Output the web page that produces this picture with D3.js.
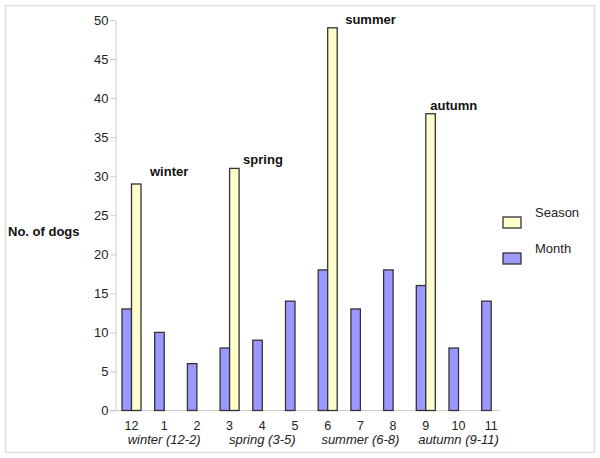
<!DOCTYPE html>
<html><head><meta charset="utf-8">
<script src="https://cdn.jsdelivr.net/npm/d3@7"></script>
<style>body{margin:0;background:#fff;} text{font-family:"Liberation Sans",Arial,sans-serif;}</style>
</head><body>
<svg id="chart" width="600" height="458"></svg>
<script>
const months = ["12","1","2","3","4","5","6","7","8","9","10","11"];
const monthValues = [13,10,6,8,9,14,18,13,18,16,8,14];
const seasons = ["winter","spring","summer","autumn"];
const seasonValues = [29,31,49,38];
const seasonRanges = ["winter (12-2)","spring (3-5)","summer (6-8)","autumn (9-11)"];
const yTicks = [0,5,10,15,20,25,30,35,40,45,50];

const svg = d3.select("#chart");
const W = 600, H = 458;
const barW = 9.5;
const labelOffsets = [[9,-8],[4,-4],[8,-4],[-5,-4]];

svg.append("rect").attr("x",5.5).attr("y",5.5).attr("width",589).attr("height",447)
  .attr("fill","#fff").attr("stroke","#ddd").attr("stroke-width",1.5);

const y = d3.scaleLinear().domain([0,50]).range([410.5,20]);
const x = d3.scaleBand().domain(months).range([122,122+12*32.7]).paddingInner(0).paddingOuter(0);

// y axis
const yAxis = svg.append("g").attr("transform","translate(115.5,0)")
  .call(d3.axisLeft(y).tickValues(yTicks).tickSize(5).tickPadding(2).tickSizeOuter(0));
yAxis.select(".domain").attr("stroke","#ccc");
yAxis.selectAll(".tick line").attr("stroke","#ccc");
yAxis.selectAll(".tick text").attr("font-size",13).attr("fill","#222")
  .style("font-family","'Liberation Sans',Arial,sans-serif");

// x axis baseline
svg.append("line").attr("x1",110).attr("x2",500).attr("y1",y(0)).attr("y2",y(0))
  .attr("stroke","#ccc").attr("stroke-width",1);

// month bars
svg.append("g").selectAll("rect").data(months).join("rect")
  .attr("x",(m)=>x(m)).attr("width",barW)
  .attr("y",(m,i)=>y(monthValues[i])).attr("height",(m,i)=>y(0)-y(monthValues[i]))
  .attr("fill","#9999ff").attr("stroke","#333").attr("stroke-width",1.3);

// season bars (next to first month of each season)
svg.append("g").selectAll("rect").data(seasons).join("rect")
  .attr("x",(s,i)=>x(months[i*3])+barW).attr("width",barW)
  .attr("y",(s,i)=>y(seasonValues[i])).attr("height",(s,i)=>y(0)-y(seasonValues[i]))
  .attr("fill","#ffffcc").attr("stroke","#333").attr("stroke-width",1.3);

// season annotations
svg.append("g").selectAll("text").data(seasons).join("text")
  .attr("x",(s,i)=>x(months[i*3])+2*barW+labelOffsets[i][0])
  .attr("y",(s,i)=>y(seasonValues[i])+labelOffsets[i][1])
  .attr("font-size",13).attr("font-weight","bold").attr("fill","#111").text(s=>s);

// month tick labels
svg.append("g").selectAll("text").data(months).join("text")
  .attr("x",m=>x(m)+barW).attr("y",430).attr("text-anchor","middle")
  .attr("font-size",12.5).attr("fill","#222").text(m=>m);

// season range labels
svg.append("g").selectAll("text").data(seasonRanges).join("text")
  .attr("x",(s,i)=>x(months[i*3+1])+barW).attr("y",444).attr("text-anchor","middle")
  .attr("font-size",13).attr("font-style","italic").attr("fill","#222").text(s=>s);

// y label
svg.append("text").attr("x",8).attr("y",236).attr("font-size",13).attr("font-weight","bold")
  .attr("fill","#111").text("No. of dogs");

// legend
const legend = [{name:"Season",fill:"#ffffcc"},{name:"Month",fill:"#9999ff"}];
const lg = svg.append("g").selectAll("g").data(legend).join("g")
  .attr("transform",(d,i)=>`translate(503,${217+i*36})`);
lg.append("rect").attr("width",18).attr("height",11).attr("fill",d=>d.fill)
  .attr("stroke","#333").attr("stroke-width",1.3);
lg.append("text").attr("x",32).attr("y",0).attr("font-size",13).attr("fill","#222").text(d=>d.name);
</script>
</body></html>
